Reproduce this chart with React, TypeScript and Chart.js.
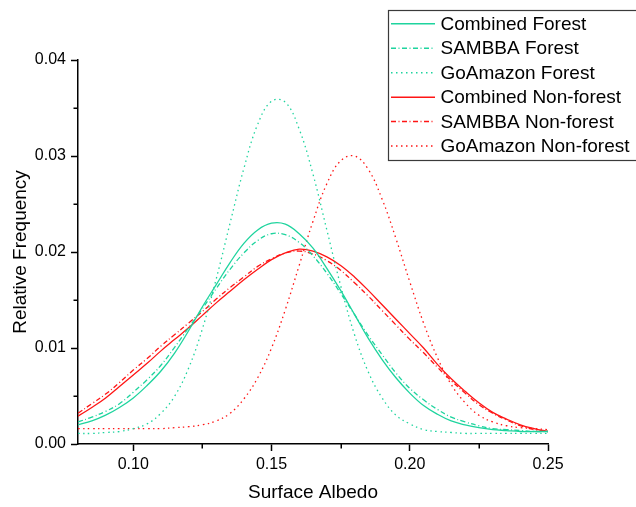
import React, { useEffect, useRef } from 'react';
import { Chart, registerables } from 'chart.js';

Chart.register(...registerables);

// ---- data ----
const albedo = [
  0.080, 0.085, 0.090, 0.095, 0.100, 0.105, 0.110, 0.115, 0.120, 0.125,
  0.130, 0.135, 0.140, 0.145, 0.150, 0.155, 0.160, 0.165, 0.170, 0.175,
  0.180, 0.185, 0.190, 0.195, 0.200, 0.205, 0.210, 0.215, 0.220, 0.225,
  0.230, 0.235, 0.240, 0.245, 0.250,
];

const combinedForest = [
  0.0020, 0.0024, 0.0030, 0.0038, 0.0048, 0.0061, 0.0076, 0.0095, 0.0118, 0.0143,
  0.0166, 0.0189, 0.0209, 0.0223, 0.0230, 0.0229, 0.0219, 0.0204, 0.0183, 0.0160,
  0.0135, 0.0110, 0.0088, 0.0069, 0.0053, 0.0040, 0.0031, 0.0024, 0.0020, 0.0017,
  0.0015, 0.0014, 0.0013, 0.0013, 0.0013,
];

const sambbaForest = [
  0.0023, 0.0028, 0.0034, 0.0042, 0.0054, 0.0067, 0.0082, 0.0101, 0.0121, 0.0141,
  0.0162, 0.0182, 0.0199, 0.0212, 0.0219, 0.0218, 0.0210, 0.0196, 0.0178, 0.0157,
  0.0135, 0.0113, 0.0093, 0.0074, 0.0058, 0.0046, 0.0036, 0.0028, 0.0023, 0.0019,
  0.0016, 0.0015, 0.0014, 0.0013, 0.0013,
];

const goAmazonForest = [
  0.0011, 0.0011, 0.0012, 0.0013, 0.0016, 0.0021, 0.0032, 0.0050, 0.0079, 0.0120,
  0.0172, 0.0230, 0.0287, 0.0333, 0.0357, 0.0356, 0.0328, 0.0281, 0.0223, 0.0165,
  0.0114, 0.0075, 0.0048, 0.0030, 0.0021, 0.0015, 0.0013, 0.0012, 0.0011, 0.0011,
  0.0011, 0.0011, 0.0011, 0.0011, 0.0011,
];

const combinedNonForest = [
  0.0029, 0.0038, 0.0048, 0.0060, 0.0072, 0.0084, 0.0097, 0.0109, 0.0121, 0.0134,
  0.0147, 0.0159, 0.0171, 0.0182, 0.0192, 0.0199, 0.0203, 0.0201, 0.0195, 0.0186,
  0.0174, 0.0160, 0.0145, 0.0130, 0.0115, 0.0100, 0.0083, 0.0068, 0.0055, 0.0043,
  0.0033, 0.0026, 0.0020, 0.0016, 0.0013,
];

const sambbaNonForest = [
  0.0032, 0.0042, 0.0052, 0.0064, 0.0077, 0.0089, 0.0102, 0.0114, 0.0126, 0.0138,
  0.0151, 0.0163, 0.0174, 0.0185, 0.0193, 0.0199, 0.0201, 0.0198, 0.0191, 0.0181,
  0.0168, 0.0154, 0.0139, 0.0124, 0.0109, 0.0095, 0.0080, 0.0066, 0.0053, 0.0041,
  0.0032, 0.0025, 0.0019, 0.0015, 0.0013,
];

const goAmazonNonForest = [
  0.0016, 0.0016, 0.0016, 0.0016, 0.0016, 0.0016, 0.0016, 0.0017, 0.0018, 0.0020,
  0.0024, 0.0032, 0.0047, 0.0069, 0.0100, 0.0140, 0.0186, 0.0232, 0.0271, 0.0295,
  0.0300, 0.0286, 0.0255, 0.0214, 0.0169, 0.0126, 0.0090, 0.0062, 0.0043, 0.0030,
  0.0023, 0.0019, 0.0017, 0.0016, 0.0015,
];

const seriesLabels = [
  'Combined Forest',
  'SAMBBA Forest',
  'GoAmazon Forest',
  'Combined Non-forest',
  'SAMBBA Non-forest',
  'GoAmazon Non-forest',
];

const xMajorTicks = [0.10, 0.15, 0.20, 0.25];
const xMinorTicks = [0.125, 0.175, 0.225];
const yMajorTicks = [0.00, 0.01, 0.02, 0.03, 0.04];
const yMinorTicks = [0.005, 0.015, 0.025, 0.035];

const xTitle = 'Surface Albedo';
const yTitle = 'Relative Frequency';

// ---- styles ----
const GREEN = '#1ed49e';
const RED = '#ff1515';
const SOLID: number[] = [];
const DASH_DOT = [5, 2.5, 1, 2.5];
const DOT = [1.5, 3.5];
const FONT = '"Liberation Sans", Arial, sans-serif';

const toPoints = (ys: number[]) => albedo.map((x, i) => ({ x, y: ys[i] }));

const minorTickPlugin = {
  id: 'minorTicks',
  afterDraw(chart: any) {
    const { ctx, chartArea } = chart;
    const xs = chart.scales.x;
    const ys = chart.scales.y;
    ctx.save();
    ctx.strokeStyle = '#000';
    ctx.lineWidth = 1.5;
    ctx.beginPath();
    xMinorTicks.forEach((v) => {
      const px = Math.round(xs.getPixelForValue(v)) + 0.25;
      ctx.moveTo(px, chartArea.bottom);
      ctx.lineTo(px, chartArea.bottom + 4.5);
    });
    yMinorTicks.forEach((v) => {
      const py = Math.round(ys.getPixelForValue(v)) + 0.25;
      ctx.moveTo(chartArea.left, py);
      ctx.lineTo(chartArea.left - 4.5, py);
    });
    ctx.stroke();
    ctx.restore();
  },
};

const boxLegendPlugin = {
  id: 'boxLegend',
  afterDraw(chart: any) {
    const { ctx } = chart;
    const boxX = 388.5;
    const boxY = 10.5;
    const boxW = 270;
    const boxH = 150;
    ctx.save();
    ctx.fillStyle = '#ffffff';
    ctx.fillRect(boxX, boxY, boxW, boxH);
    ctx.strokeStyle = '#3a3a3a';
    ctx.lineWidth = 1.2;
    ctx.strokeRect(boxX, boxY, boxW, boxH);
    const rowY0 = 23.8;
    const rowStep = 24.45;
    chart.data.datasets.forEach((ds: any, i: number) => {
      const y = rowY0 + i * rowStep;
      ctx.beginPath();
      ctx.setLineDash(ds.borderDash || []);
      ctx.strokeStyle = ds.borderColor;
      ctx.lineWidth = 1.5;
      ctx.moveTo(391, y);
      ctx.lineTo(435, y);
      ctx.stroke();
      ctx.setLineDash([]);
      ctx.fillStyle = '#000';
      ctx.font = `19px ${FONT}`;
      ctx.textAlign = 'left';
      ctx.textBaseline = 'middle';
      ctx.fillText(ds.label, 440.5, y + 1);
    });
    ctx.restore();
  },
};

export default function App() {
  const canvasRef = useRef<HTMLCanvasElement | null>(null);

  useEffect(() => {
    const canvas = canvasRef.current;
    if (!canvas) return;
    Chart.defaults.font.family = FONT;
    Chart.defaults.color = '#000';

    const mk = (label: string, data: number[], color: string, dash: number[]) => ({
      label,
      data: toPoints(data),
      borderColor: color,
      backgroundColor: color,
      borderWidth: 1.3,
      borderDash: dash,
      pointRadius: 0,
      tension: 0.4,
      fill: false,
    });

    const chart = new Chart(canvas, {
      type: 'line',
      data: {
        datasets: [
          mk(seriesLabels[0], combinedForest, GREEN, SOLID),
          mk(seriesLabels[1], sambbaForest, GREEN, DASH_DOT),
          mk(seriesLabels[2], goAmazonForest, GREEN, DOT),
          mk(seriesLabels[3], combinedNonForest, RED, SOLID),
          mk(seriesLabels[4], sambbaNonForest, RED, DASH_DOT),
          mk(seriesLabels[5], goAmazonNonForest, RED, DOT),
        ],
      },
      options: {
        responsive: false,
        animation: false,
        devicePixelRatio: 1,
        layout: { padding: { left: 0, top: 60, right: 88, bottom: 0 } },
        plugins: {
          legend: { display: false },
          tooltip: { enabled: false },
          title: { display: false },
        },
        scales: {
          x: {
            type: 'linear',
            min: 0.08,
            max: 0.25,
            afterBuildTicks: (scale: any) => {
              scale.ticks = xMajorTicks.map((value) => ({ value }));
            },
            afterFit: (scale: any) => {
              scale.height = 63;
            },
            ticks: {
              font: { size: 16, family: FONT },
              color: '#000',
              padding: 4,
              maxRotation: 0,
              autoSkip: false,
              callback: (v: any) => Number(v).toFixed(2),
            },
            grid: {
              display: true,
              drawOnChartArea: false,
              drawTicks: true,
              tickLength: 7,
              tickColor: '#000',
              tickWidth: 1.5,
            },
            border: { display: true, color: '#000', width: 1.5 },
            title: {
              display: true,
              text: xTitle,
              font: { size: 19, family: FONT },
              color: '#000',
              padding: { top: 0, bottom: 3 },
            },
          },
          y: {
            type: 'linear',
            min: 0,
            max: 0.04,
            afterBuildTicks: (scale: any) => {
              scale.ticks = yMajorTicks.map((value) => ({ value }));
            },
            afterFit: (scale: any) => {
              scale.width = 78;
            },
            ticks: {
              font: { size: 16, family: FONT },
              color: '#000',
              padding: 5,
              autoSkip: false,
              callback: (v: any) => Number(v).toFixed(2),
            },
            grid: {
              display: true,
              drawOnChartArea: false,
              drawTicks: true,
              tickLength: 7,
              tickColor: '#000',
              tickWidth: 1.5,
            },
            border: { display: true, color: '#000', width: 1.5 },
            title: {
              display: true,
              text: yTitle,
              font: { size: 19, family: FONT },
              color: '#000',
              padding: { top: 9, bottom: 0 },
            },
          },
        },
      },
      plugins: [minorTickPlugin, boxLegendPlugin],
    } as any);

    return () => {
      chart.destroy();
    };
  }, []);

  return (
    <div style={{ position: 'fixed', left: 0, top: 0, width: 636, height: 507, background: '#fff' }}>
      <canvas ref={canvasRef} width={636} height={507} style={{ display: 'block' }} />
    </div>
  );
}
